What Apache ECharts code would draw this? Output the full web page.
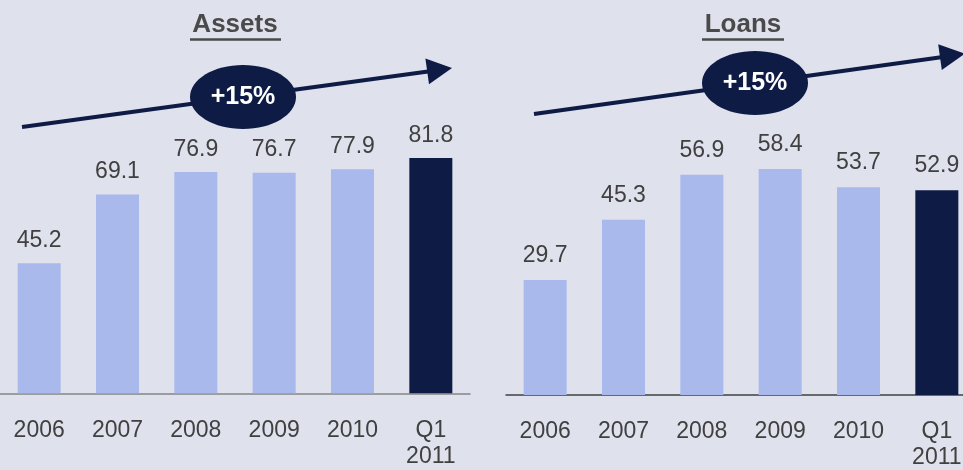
<!DOCTYPE html>
<html><head><meta charset="utf-8">
<script src="https://cdn.jsdelivr.net/npm/echarts@6/dist/echarts.min.js"></script>
<style>html,body{margin:0;padding:0;background:#dfe1ed;}#c{width:963px;height:470px;}</style>
</head><body><div id="c"></div>
<script>
const categories = ['2006', '2007', '2008', '2009', '2010', 'Q1\n2011'];
const assets = [45.2, 69.1, 76.9, 76.7, 77.9, 81.8];
const loans = [29.7, 45.3, 56.9, 58.4, 53.7, 52.9];
const titles = ['Assets', 'Loans'];
const growth = ['+15%', '+15%'];

const FONT = 'Arial, "Liberation Sans", sans-serif';
const light = '#a9b9ec', dark = '#0e1b45', txt = '#404040';
function colored(arr) {
  return arr.map((v, i) => ({ value: v, itemStyle: { color: i === arr.length - 1 ? dark : light } }));
}
function xAx(idx, lineColor) {
  return {
    type: 'category', gridIndex: idx, data: categories,
    axisLine: { show: true, lineStyle: { color: lineColor, width: 1.5 } },
    axisTick: { show: false },
    axisLabel: { color: txt, fontSize: 23, fontFamily: FONT, lineHeight: 26, margin: 24, interval: 0 }
  };
}
function yAx(idx) {
  return { type: 'value', gridIndex: idx, min: 0, max: 100, show: false, splitLine: { show: false } };
}
function ser(idx, data, dist) {
  return {
    type: 'bar', xAxisIndex: idx, yAxisIndex: idx, data: colored(data), barWidth: 43,
    label: { show: true, position: 'top', distance: dist, color: txt, fontSize: 23, fontFamily: FONT }
  };
}
function arrow(x0, y0, x1, y1, tip) {
  return [
    { type: 'line', shape: { x1: x0, y1: y0, x2: x1, y2: y1 }, style: { stroke: dark, lineWidth: 4 }, z: 10 },
    { type: 'polygon', shape: { points: tip }, style: { fill: dark }, z: 10 }
  ];
}
function badge(cx, cy, text) {
  return [
    { type: 'ellipse', shape: { cx: cx, cy: cy, rx: 53, ry: 32 }, style: { fill: dark }, z: 11 },
    { type: 'text', x: cx, y: cy, style: { text: text, fill: '#ffffff', font: 'bold 25px Arial, "Liberation Sans", sans-serif', align: 'center', verticalAlign: 'middle' }, z: 12 }
  ];
}
function title(cx, y, text, x1, x2) {
  return [
    { type: 'text', x: cx, y: y, style: { text: text, fill: '#4a4a4a', font: 'bold 26px Arial, "Liberation Sans", sans-serif', align: 'center', verticalAlign: 'middle' }, z: 12 },
    { type: 'line', shape: { x1: x1, y1: 39.5, x2: x2, y2: 39.5 }, style: { stroke: '#4a4a4a', lineWidth: 2.5 }, z: 12 }
  ];
}

const chart = echarts.init(document.getElementById('c'), null, { renderer: 'canvas' });
chart.setOption({
  backgroundColor: '#dfe1ed',
  animation: false,
  grid: [
    { left: 0, width: 470, top: 105.6, bottom: 76.7, outerBoundsMode: 'none', containLabel: false },
    { left: 506, width: 470, top: 8, bottom: 75, outerBoundsMode: 'none', containLabel: false }
  ],
  xAxis: [xAx(0, '#858585'), xAx(1, '#404040')],
  yAxis: [yAx(0), yAx(1)],
  series: [ser(0, assets, 11), ser(1, loans, 13)],
  graphic: [].concat(
    title(235, 25, titles[0], 190, 281),
    title(743, 25, titles[1], 702, 784),
    arrow(22, 127, 428, 71.4, [[429, 84.3], [425.4, 58.5], [452, 68]]),
    arrow(534, 114, 941, 57.2, [[941.8, 70.1], [938.2, 44.3], [965, 53.7]]),
    badge(243, 97, growth[0]),
    badge(755, 83, growth[1])
  )
});
</script></body></html>
